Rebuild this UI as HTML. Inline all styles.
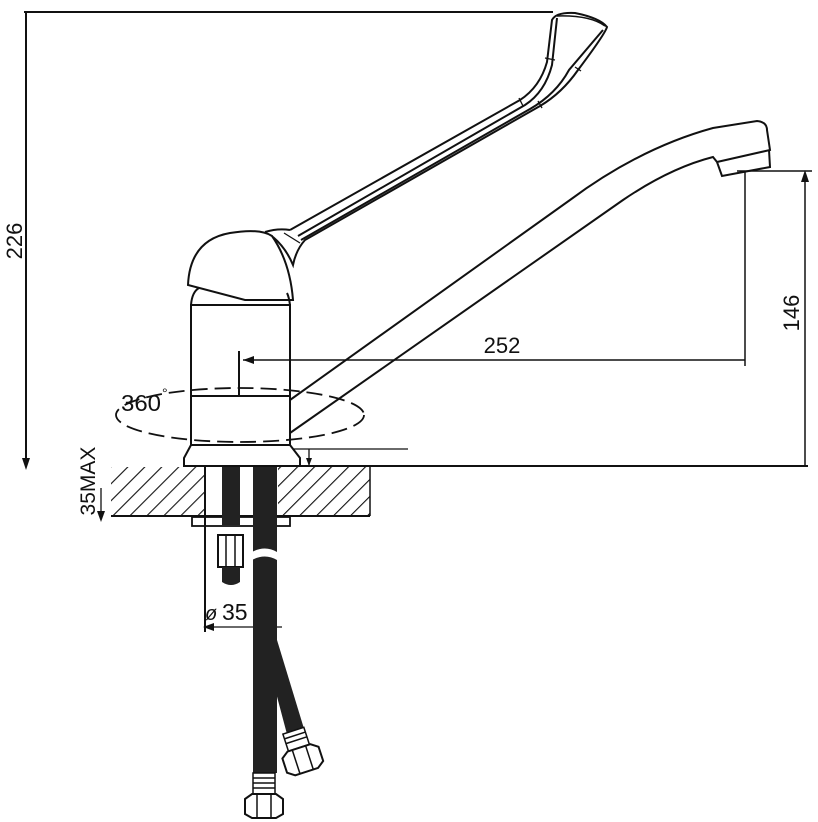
<!DOCTYPE html>
<html><head><meta charset="utf-8"><style>html,body{margin:0;padding:0;background:#fff}svg{display:block}</style></head>
<body>
<svg width="818" height="822" viewBox="0 0 818 822" xmlns="http://www.w3.org/2000/svg">
<defs>
<pattern id="h" patternUnits="userSpaceOnUse" width="12" height="12" patternTransform="rotate(45)">
<line x1="0" y1="0" x2="0" y2="12" stroke="#111" stroke-width="2.2"/>
</pattern>
</defs>
<g fill="none" stroke="#111" stroke-width="2">
<rect x="111" y="467" width="94" height="49" fill="url(#h)" stroke="none"/>
<rect x="278" y="467" width="92" height="49" fill="url(#h)" stroke="none"/>
<line x1="111" y1="516" x2="370" y2="516"/>
<line x1="370" y1="467" x2="370" y2="516" stroke-width="1.5"/>
<line x1="205" y1="467" x2="205" y2="632"/>
<line x1="300" y1="466" x2="808" y2="466"/>
<line x1="293" y1="449" x2="408" y2="449" stroke-width="1.3"/>
<line x1="309" y1="449" x2="309" y2="466" stroke-width="1.3"/>
<line x1="24" y1="12" x2="553" y2="12"/>
<line x1="26" y1="12" x2="26" y2="462"/>
<path d="M191,396 L191,305 L290,305 L290,396"/>
<line x1="191" y1="396" x2="290" y2="396"/>
<path d="M191,396 L191,445 L290,445 L290,396"/>
<path d="M191,445 L184,458 L184,466 L300,466 L300,458 L290,445 Z"/>
<path d="M191,305 Q192,292 199,288"/>
<path d="M290,305 Q289,297 287,293"/>
<path d="M188,285 Q190,240 230,233 Q260,228 272,236 Q290,262 293,300 L245,300 Z"/>
<path d="M265,232 Q278,228 290,230"/>
<path d="M290,230 L520,100 Q540,87 547,62 L552,20 Q556,12 575,13 Q600,18 607,27 Q605,34 578,70 Q562,93 540,106 L305,240 Q296,250 293,265 Q286,248 273,237"/>
<path d="M298,236 L525,105 Q545,92 552,65 L557,18"/>
<path d="M301,240 L530,109 Q556,94 569,70 L603,30"/>
<path d="M557,16 Q590,15 605,26" stroke-width="1.5"/>
<line x1="284" y1="233" x2="300" y2="243" stroke-width="1.3"/>
<line x1="545" y1="58" x2="555" y2="60" stroke-width="1.3"/>
<line x1="575" y1="67" x2="581" y2="71" stroke-width="1.3"/>
<line x1="519" y1="98" x2="523" y2="106" stroke-width="1.3"/>
<line x1="538" y1="101" x2="542" y2="108" stroke-width="1.3"/>
<path d="M290,400 L570,200 Q640,148 713,128 L757,121 Q767,122 767,130 L770,150 L717,162"/>
<path d="M290,433 L623,200 Q670,168 713,157 L717,162 L722,176 L770,167 L769,150"/>
<ellipse cx="240" cy="415" rx="124" ry="27" stroke-dasharray="16,7" stroke-width="1.8"/>
<line x1="243" y1="360" x2="745" y2="360" stroke-width="1.5"/>
<line x1="239" y1="351" x2="239" y2="396" stroke-width="2"/>
<line x1="745" y1="172" x2="745" y2="366" stroke-width="1.5"/>
<line x1="737" y1="171" x2="812" y2="171" stroke-width="1.5"/>
<line x1="805" y1="176" x2="805" y2="466" stroke-width="1.5"/>
<rect x="192" y="517" width="98" height="9" stroke-width="1.8"/>
<line x1="208" y1="627" x2="282" y2="627" stroke-width="1.3"/>
<line x1="101" y1="488" x2="101" y2="518" stroke-width="1.3"/>
</g>
<g fill="#111">
<polygon points="22,458 30,458 26,470"/>
<polygon points="243,360 254,356 254,364"/>
<polygon points="805,170 801,182 809,182"/>
<polygon points="203,627 214,623 214,631"/>
<polygon points="101,522 97,511 105,511"/>
<polygon points="309,466 306,458 312,458"/>
</g>
<g>
<rect x="222" y="467" width="18" height="58" fill="#222"/>
<rect x="253" y="467" width="24" height="306" fill="#222"/>
<path d="M262,640 L277,640 L305,732 L288,738 Z" fill="#222"/>
<path d="M252,552 Q265,545 277,552 L277,560 Q265,553 252,560 Z" fill="#fff"/>
<rect x="218" y="535" width="25" height="32" fill="#fff" stroke="#111" stroke-width="2"/>
<line x1="226" y1="535" x2="226" y2="567" stroke="#111" stroke-width="1.5"/>
<line x1="235" y1="535" x2="235" y2="567" stroke="#111" stroke-width="1.5"/>
<path d="M222,567 L240,567 L240,582 Q231,588 222,582 Z" fill="#222"/>
<rect x="253" y="773" width="22" height="22" fill="#fff" stroke="#111" stroke-width="1.5"/>
<g stroke="#111" stroke-width="1.5"><line x1="253" y1="778" x2="275" y2="778"/><line x1="253" y1="783" x2="275" y2="783"/><line x1="253" y1="788" x2="275" y2="788"/></g>
<path d="M245,799 L252,794 L276,794 L283,799 L283,814 L276,818 L252,818 L245,814 Z" fill="#fff" stroke="#111" stroke-width="2"/>
<line x1="257" y1="794" x2="257" y2="818" stroke="#111" stroke-width="1.5"/>
<line x1="271" y1="794" x2="271" y2="818" stroke="#111" stroke-width="1.5"/>
<g transform="rotate(-18 298 745)">
<rect x="287" y="730" width="22" height="18" fill="#fff" stroke="#111" stroke-width="1.5"/>
<line x1="287" y1="735" x2="309" y2="735" stroke="#111" stroke-width="1.5"/>
<line x1="287" y1="740" x2="309" y2="740" stroke="#111" stroke-width="1.5"/>
<path d="M279,753 L286,748 L310,748 L317,753 L317,768 L310,773 L286,773 L279,768 Z" fill="#fff" stroke="#111" stroke-width="2"/>
<line x1="291" y1="748" x2="291" y2="773" stroke="#111" stroke-width="1.5"/>
<line x1="305" y1="748" x2="305" y2="773" stroke="#111" stroke-width="1.5"/>
</g>
</g>
<g font-family="'Liberation Sans', sans-serif" fill="#111">
<text x="14" y="241" font-size="22" text-anchor="middle" transform="rotate(-90 14 241)" dy="8">226</text>
<text x="502" y="353" font-size="22" text-anchor="middle">252</text>
<text x="791" y="313" font-size="22" text-anchor="middle" transform="rotate(-90 791 313)" dy="8">146</text>
<text x="121" y="411" font-size="23" textLength="40" lengthAdjust="spacingAndGlyphs">360</text>
<text x="162" y="398" font-size="14">°</text>
<text x="88" y="481" font-size="21" text-anchor="middle" transform="rotate(-90 88 481)" dy="7">35MAX</text>
<text x="205" y="620" font-size="20" font-style="italic">ø</text>
<text x="222" y="620" font-size="23">35</text>
</g>
</svg>
</body></html>
